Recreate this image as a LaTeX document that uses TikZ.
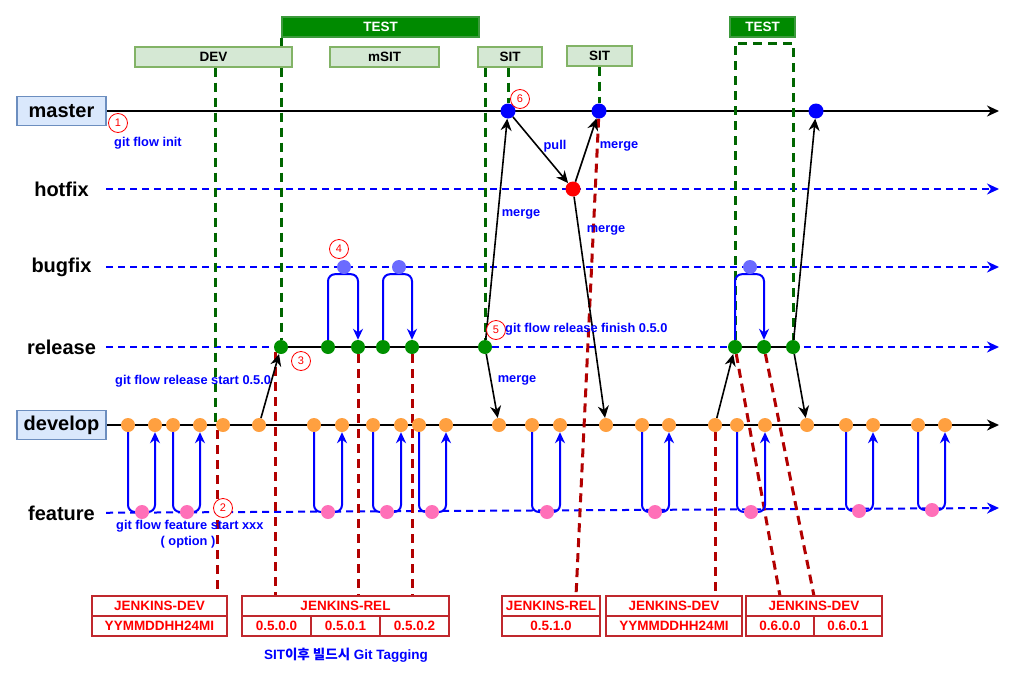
\documentclass[tikz,border=0pt]{standalone}
\usepackage{fontspec}
\setmainfont{Liberation Sans}
\newfontfamily\krfont{Noto Sans CJK KR}
\usepackage{tikz}
\usetikzlibrary{arrows.meta,backgrounds,calc,positioning}

\definecolor{laneline}{HTML}{6C8EBF}
\definecolor{lanefill}{HTML}{DAE8FC}
\definecolor{envline}{HTML}{82B366}
\definecolor{envfill}{HTML}{D5E8D4}
\definecolor{testfill}{HTML}{008A00}
\definecolor{testline}{HTML}{3C9A3C}
\definecolor{masterc}{HTML}{0000FF}
\definecolor{hotc}{HTML}{FF0000}
\definecolor{bugc}{HTML}{6B6BFF}
\definecolor{relc}{HTML}{009000}
\definecolor{devc}{HTML}{FFA040}
\definecolor{featc}{HTML}{FF70B8}
\definecolor{ggreen}{HTML}{006600}
\definecolor{gred}{HTML}{B20000}
\definecolor{jline}{HTML}{C0282D}

\newcommand{\lanefont}{\fontsize{20}{22}\selectfont\bfseries}
\newcommand{\boxfont}{\fontsize{13.5}{15}\selectfont\bfseries}
\newcommand{\notefont}{\fontsize{12.8}{14}\selectfont\bfseries}

\tikzset{
	lanelabel/.style={minimum width=89, minimum height=29, inner sep=0pt, font=\lanefont},
	lanefilled/.style={lanelabel, draw=laneline, fill=lanefill, line width=1.2pt},
	envbox/.style={draw=envline, fill=envfill, line width=1.2pt, minimum height=20, inner sep=0pt, font=\boxfont},
	testbox/.style={envbox, draw=testline, fill=testfill, text=white},
	jbox/.style={draw=jline, fill=white, text=red, line width=1.2pt, minimum height=20, inner sep=0pt, outer sep=0pt, font=\boxfont},
	cmt/.style={circle, minimum size=14, inner sep=0pt},
	masterdot/.style={cmt, fill=masterc, minimum size=15},
	hotdot/.style={cmt, fill=hotc, minimum size=15},
	bugdot/.style={cmt, fill=bugc},
	reldot/.style={cmt, fill=relc},
	devdot/.style={cmt, fill=devc},
	featdot/.style={cmt, fill=featc},
	lane/.style={draw=black, line width=2pt},
	lanedash/.style={draw=blue, line width=2pt, dash pattern=on 7pt off 5pt},
	lanetip/.style={-{Stealth[length=12pt,width=11pt]}},
	flow/.style={draw=black, line width=1.6pt, -{Stealth[length=12pt,width=11pt]}},
	loopline/.style={draw=blue, line width=2pt, rounded corners=7pt, -{Stealth[length=11pt,width=10pt]}},
	gguide/.style={draw=ggreen, line width=3pt, dash pattern=on 9pt off 6pt},
	rguide/.style={draw=gred, line width=3pt, dash pattern=on 9pt off 6pt},
	note/.style={text=blue, font=\notefont, inner sep=0pt},
	stepno/.style={circle, draw=red, fill=white, text=red, line width=0.8pt, minimum size=19, inner sep=0pt, font=\fontsize{11}{11}\selectfont}
}

\begin{document}
\begin{tikzpicture}[x=1pt,y=-1pt]
	\useasboundingbox (0,0) rectangle (1013,675);

	\node[testbox,minimum width=197] (test) at (380.5,27) {TEST};
	\node[testbox,minimum width=65] (test2) at (762.5,27) {TEST};
	\node[envbox,minimum width=157] (dev) at (213.5,57) {DEV};
	\node[envbox,minimum width=109] (msit) at (384.5,57) {mSIT};
	\node[envbox,minimum width=64] (sit1) at (510,57) {SIT};
	\node[envbox,minimum width=65] (sit2) at (599.5,56) {SIT};

	\node[lanefilled] (master) at (61.5,111) {master};
	\node[lanelabel] (hotfix) at (61.5,189) {hotfix};
	\node[lanelabel] (bugfix) at (61.5,267) {bugfix};
	\node[lanelabel] (release) at (61.5,347) {release};
	\node[lanefilled] (develop) at (61.5,425) {develop};
	\node[lanelabel] (feature) at (61.5,513) {feature};
	\coordinate (mEnd) at (999,111);
	\coordinate (hEnd) at (999,189);
	\coordinate (bEnd) at (999,267);
	\coordinate (rEnd) at (999,347);
	\coordinate (dEnd) at (999,425);
	\coordinate (fEnd) at (999,508);

	\node[masterdot] (m1) at (508,111) {};
	\node[masterdot] (m2) at (599,111) {};
	\node[masterdot] (m3) at (816,111) {};
	\node[hotdot] (h1) at (573,189) {};
	\node[bugdot] (b1) at (344,267) {};
	\node[bugdot] (b2) at (399,267) {};
	\node[bugdot] (b3) at (750,267) {};
	\node[reldot] (r1) at (281,347) {};
	\node[reldot] (r2) at (328,347) {};
	\node[reldot] (r3) at (358,347) {};
	\node[reldot] (r4) at (383,347) {};
	\node[reldot] (r5) at (412,347) {};
	\node[reldot] (r6) at (485,347) {};
	\node[reldot] (r7) at (735,347) {};
	\node[reldot] (r8) at (764,347) {};
	\node[reldot] (r9) at (793,347) {};
	\node[devdot] (d1) at (128,425) {};
	\node[devdot] (d2) at (155,425) {};
	\node[devdot] (d3) at (173,425) {};
	\node[devdot] (d4) at (200,425) {};
	\node[devdot] (d5) at (223,425) {};
	\node[devdot] (d6) at (259,425) {};
	\node[devdot] (d7) at (314,425) {};
	\node[devdot] (d8) at (342,425) {};
	\node[devdot] (d9) at (373,425) {};
	\node[devdot] (d10) at (401,425) {};
	\node[devdot] (d11) at (419,425) {};
	\node[devdot] (d12) at (446,425) {};
	\node[devdot] (d13) at (499,425) {};
	\node[devdot] (d14) at (532,425) {};
	\node[devdot] (d15) at (560,425) {};
	\node[devdot] (d16) at (606,425) {};
	\node[devdot] (d17) at (642,425) {};
	\node[devdot] (d18) at (669,425) {};
	\node[devdot] (d19) at (715,425) {};
	\node[devdot] (d20) at (737,425) {};
	\node[devdot] (d21) at (765,425) {};
	\node[devdot] (d22) at (807,425) {};
	\node[devdot] (d23) at (846,425) {};
	\node[devdot] (d24) at (873,425) {};
	\node[devdot] (d25) at (918,425) {};
	\node[devdot] (d26) at (945,425) {};
	\node[featdot] (f1) at (142,512) {};
	\node[featdot] (f2) at (187,512) {};
	\node[featdot] (f3) at (328,512) {};
	\node[featdot] (f4) at (387,512) {};
	\node[featdot] (f5) at (432,512) {};
	\node[featdot] (f6) at (547,512) {};
	\node[featdot] (f7) at (655,512) {};
	\node[featdot] (f8) at (751,512) {};
	\node[featdot] (f9) at (859,511) {};
	\node[featdot] (f10) at (932,510) {};

	\node[jbox,minimum width=135] (jd1) at (159.5,606) {JENKINS-DEV};
	\node[jbox,minimum width=135,below=0pt of jd1] (jd1v) {YYMMDDHH24MI};
	\node[jbox,minimum width=207] (jr1) at (345.5,606) {JENKINS-REL};
	\node[jbox,minimum width=69,below right=0pt and 0pt of jr1.south west] (c500) {0.5.0.0};
	\node[jbox,minimum width=69,right=0pt of c500] (c501) {0.5.0.1};
	\node[jbox,minimum width=69,right=0pt of c501] (c502) {0.5.0.2};
	\node[jbox,minimum width=98] (jr2) at (551,606) {JENKINS-REL};
	\node[jbox,minimum width=98,below=0pt of jr2] (c510) {0.5.1.0};
	\node[jbox,minimum width=136] (jd2) at (674,606) {JENKINS-DEV};
	\node[jbox,minimum width=136,below=0pt of jd2] (jd2v) {YYMMDDHH24MI};
	\node[jbox,minimum width=136] (jd3) at (814,606) {JENKINS-DEV};
	\node[jbox,minimum width=68,below right=0pt and 0pt of jd3.south west] (c600) {0.6.0.0};
	\node[jbox,minimum width=68,right=0pt of c600] (c601) {0.6.0.1};

	\begin{scope}[on background layer]
		\draw[lane,lanetip] (master) -- (mEnd);
		\draw[lanedash,lanetip,blue] (hotfix) -- (hEnd);
		\draw[lanedash,lanetip,blue] (bugfix) -- (bEnd);
		\draw[lanedash] (release) -- (r1);
		\draw[lane] (r1.center) -- (r6.center);
		\draw[lanedash,lanetip,blue] (r6) -- (rEnd);
		\draw[lane] (r7.center) -- (r9.center);
		\draw[lane,lanetip] (develop) -- (dEnd);
		\draw[lanedash,lanetip,blue] (feature) -- (fEnd);

		\draw[gguide] (d5.west |- dev.south) -- (d5.west);
		\draw[gguide] (r1 |- test.south) -- (r1);
		\draw[gguide] (r6 |- sit1.south) -- (r6);
		\draw[gguide] (m1 |- sit1.south) -- (m1);
		\draw[gguide] (m2 |- sit2.south) -- (m2);
		\coordinate (tb) at (765,43);
		\draw[gguide] (r7) -- (r7 |- tb) -- (r9 |- tb) -- (r9);

		\draw[rguide] (d5.south west) -- (d5.south west |- jd1.north);
		\draw[rguide] (r1.south west) -- (r1.south west |- jr1.north);
		\draw[rguide] (r3) -- (r3 |- jr1.north);
		\draw[rguide] (r5) -- (r5 |- jr1.north);
		\draw[rguide] (m2) -- ($(jr2.north)+(25,0)$);
		\draw[rguide] (d19) -- (d19 |- jd2.north);
		\draw[rguide] (r7) -- (c600 |- jd3.north);
		\draw[rguide] (r8) -- (c600.north east |- jd3.north);

		\draw[loopline] (d1) -- (d1 |- f1) -| (d2);
		\draw[loopline] (d3) -- (d3 |- f2) -| (d4);
		\draw[loopline] (d7) -- (d7 |- f3) -| (d8);
		\draw[loopline] (d9) -- (d9 |- f4) -| (d10);
		\draw[loopline] (d11) -- (d11 |- f5) -| (d12);
		\draw[loopline] (d14) -- (d14 |- f6) -| (d15);
		\draw[loopline] (d17) -- (d17 |- f7) -| (d18);
		\draw[loopline] (d20) -- (d20 |- f8) -| (d21);
		\draw[loopline] (d23) -- (d23 |- f9) -| (d24);
		\draw[loopline] (d25) -- (d25 |- f10) -| (d26);
		\draw[loopline] (r2) -- (r2 |- b1.south) -| (r3);
		\draw[loopline] (r4) -- (r4 |- b2.south) -| (r5);
		\draw[loopline] (r7) -- (r7 |- b3.south) -| (r8);
	\end{scope}

	\draw[flow] (d6) -- (r1);
	\draw[flow] (r6) -- (m1);
	\draw[flow] (r6) -- (d13);
	\draw[flow] (m1) -- (h1);
	\draw[flow] (h1) -- (m2);
	\draw[flow] (h1) -- (d16);
	\draw[flow] (d19) -- (r7);
	\draw[flow] (r9) -- (m3);
	\draw[flow] (r9) -- (d22);

	\node[stepno] (s1) at (118,123) {1};
	\node[stepno] (s2) at (223,508) {2};
	\node[stepno] (s3) at (301,361) {3};
	\node[stepno] (s4) at (339,249) {4};
	\node[stepno] (s5) at (496,330) {5};
	\node[stepno] (s6) at (520,99) {6};

	\node[note,anchor=west] (ninit) at (114,143) {git flow init};
	\node[note] (npull) at (555,146) {pull};
	\node[note] (nmerge1) at (619,146) {merge};
	\node[note] (nmerge2) at (521,214) {merge};
	\node[note] (nmerge3) at (606,230) {merge};
	\node[note,anchor=west] (nfinish) at (505,329) {git flow release finish 0.5.0};
	\node[note] (nmerge4) at (517,380) {merge};
	\node[note,anchor=west] (nstart) at (115,381) {git flow release start 0.5.0};
	\node[note,anchor=west] (nfeat) at (116,526) {git flow feature start xxx};
	\node[note] (noption) at (188,542) {( option )};
	\node[note,font=\boxfont] (ntag) at (346,655) {SIT{\krfont 이후 빌드시} Git Tagging};
\end{tikzpicture}
\end{document}
